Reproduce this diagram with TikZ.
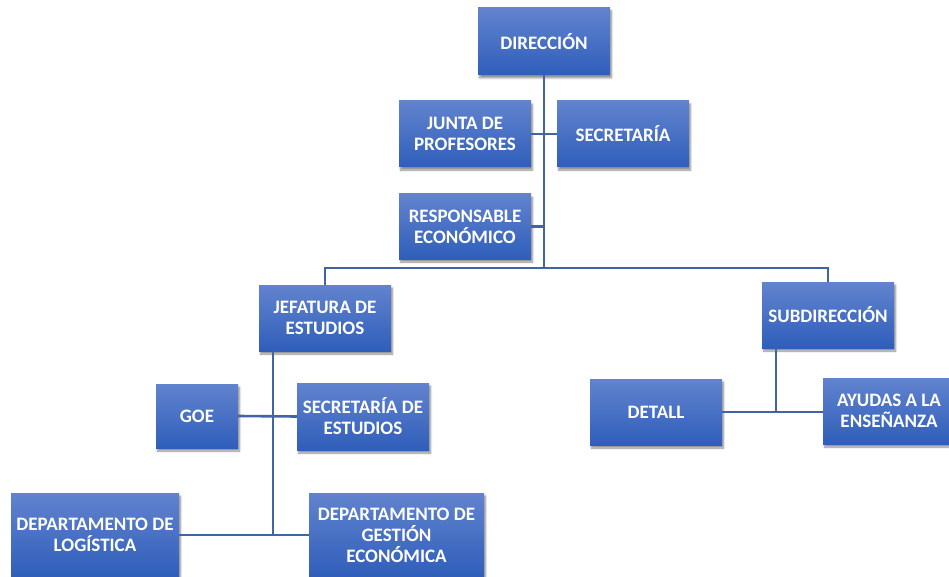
\documentclass[tikz,border=0pt]{standalone}
\usepackage{fontspec}
\setmainfont{Carlito}
\usetikzlibrary{positioning,shadows.blur}
\definecolor{boxtop}{RGB}{98,131,206}
\definecolor{boxbot}{RGB}{47,94,186}
\definecolor{linkcol}{RGB}{66,100,166}
\tikzset{unit/.style={rectangle, top color=boxtop, bottom color=boxbot, draw=none,
  text=white, font=\bfseries\fontsize{19}{21}\selectfont, align=center,
  minimum width=132pt, minimum height=66pt, inner sep=1pt,
  blur shadow={shadow xshift=1.5pt, shadow yshift=-3pt, shadow blur steps=6, shadow opacity=45}}}
\tikzstyle{link}=[draw=linkcol, line width=2.6pt]

\begin{document}
\begin{tikzpicture}[x=1pt, y=-1pt]
\useasboundingbox (0,0) rectangle (949,577);
\clip (0,0) rectangle (949,577);
\node[unit, minimum height=67pt] (dir) at (544,41.5) {DIRECCIÓN};
\node[unit] (junta) at (465,134) {JUNTA DE\\PROFESORES};
\node[unit] (secre) at (623,134) {SECRETARÍA};
\node[unit, minimum height=65pt] (resp) at (465,226.5) {RESPONSABLE\\ECONÓMICO};
\node[unit] (jef) at (325,318) {JEFATURA DE\\ESTUDIOS};
\node[unit] (sub) at (828,315) {SUBDIRECCIÓN};
\node[unit, minimum width=82pt, minimum height=64pt] (goe) at (197,416) {GOE};
\node[unit, minimum height=67pt] (secest) at (363,416.5) {SECRETARÍA DE\\ESTUDIOS};
\node[unit] (detall) at (656,412) {DETALL};
\node[unit] (ayudas) at (889,411) {AYUDAS A LA\\ENSEÑANZA};
\node[unit, minimum width=168pt, minimum height=84pt] (logis) at (95,535) {DEPARTAMENTO DE\\LOGÍSTICA};
\node[unit, minimum width=175pt, minimum height=84pt] (gest) at (396.5,535) {DEPARTAMENTO DE\\GESTIÓN\\ECONÓMICA};

\coordinate (bus) at (544,268);
\coordinate[xshift=-52pt] (jefstem) at (jef.south);
\coordinate[xshift=-52pt] (substem) at (sub.south);
\draw[link] (dir.south) -- (bus);
\draw[link] (junta.east) -- (secre.west);
\draw[link] (resp.east) -- (resp.east -| bus);
\draw[link] (jef.north) |- (bus) -| (sub.north);
\draw[link] (jefstem) -- (jefstem |- logis.east);
\draw[link] (goe.east) -- (secest.west);
\draw[link] (logis.east) -- (gest.west);
\draw[link] (substem) -- (substem |- detall.east);
\draw[link] (detall.east) -- (detall.east -| ayudas.west);
\end{tikzpicture}
\end{document}
